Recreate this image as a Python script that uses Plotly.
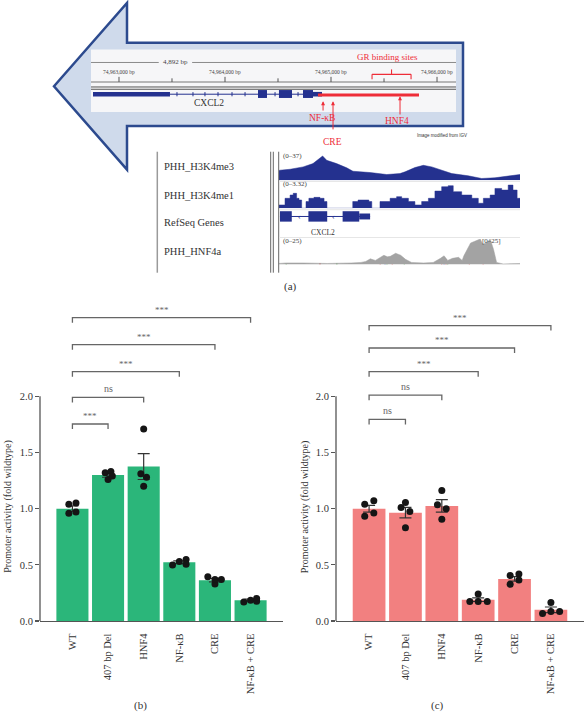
import plotly.graph_objects as go

W, H = 585, 717
SERIF = "Liberation Serif"


def PX(x):
    return x / W


def PY(y):
    return 1 - y / H


# ---------------- bar chart data ----------------
CATEGORIES = ["WT", "407 bp Del", "HNF4", "NF-κB", "CRE", "NF-κB + CRE"]

B_MEAN = [1.00, 1.30, 1.375, 0.523, 0.364, 0.186]
B_SEM = [0.025, 0.02, 0.115, 0.012, 0.016, 0.01]
B_POINTS = [
    [1.04, 1.05, 0.96, 0.97],
    [1.32, 1.33, 1.26, 1.29],
    [1.71, 1.31, 1.28, 1.20],
    [0.50, 0.53, 0.547, 0.506],
    [0.395, 0.33, 0.37, 0.37],
    [0.17, 0.185, 0.20, 0.177],
]
B_SIG_LABELS = ["***", "ns", "***", "***", "***"]
B_SIG_LEVELS = [1.754, 1.99, 2.22, 2.46, 2.70]

C_MEAN = [1.00, 0.965, 1.025, 0.19, 0.375, 0.10]
C_SEM = [0.03, 0.047, 0.055, 0.016, 0.02, 0.025]
C_POINTS = [
    [1.039, 1.07, 0.933, 0.962],
    [1.01, 1.056, 0.974, 0.83],
    [1.162, 1.036, 1.0, 0.906],
    [0.24, 0.174, 0.174, 0.174],
    [0.406, 0.418, 0.327, 0.365],
    [0.165, 0.068, 0.086, 0.086],
]
C_SIG_LABELS = ["ns", "ns", "***", "***", "***"]
C_SIG_LEVELS = [1.795, 2.01, 2.22, 2.43, 2.63]

Y_TICKS = [0.0, 0.5, 1.0, 1.5, 2.0]

# jitter of replicate dots (style, category units)
B_JITTER = [
    [-0.1, 0.1, -0.1, 0.1],
    [-0.08, 0.08, 0.0, 0.12],
    [0.0, -0.08, 0.08, 0.0],
    [-0.19, 0.0, 0.19, 0.19],
    [-0.2, 0.0, 0.0, 0.18],
    [-0.19, 0.0, 0.17, 0.17],
]
C_JITTER = [
    [-0.12, 0.13, -0.12, 0.13],
    [-0.12, 0.0, 0.12, 0.0],
    [0.0, -0.12, 0.12, 0.0],
    [0.0, -0.23, 0.0, 0.25],
    [-0.12, 0.12, -0.12, 0.12],
    [0.0, -0.23, 0.0, 0.24],
]

# ---------------- genome schematic data ----------------
RULER_TICKS_BP = [74963000, 74963500, 74964000, 74964500, 74965000, 74965500, 74966000]
RULER_LABELS = ["74,963,000 bp", "74,964,000 bp", "74,965,000 bp", "74,966,000 bp"]
RULER_LABEL_BP = [74963000, 74964000, 74965000, 74966000]
WINDOW_BP = [74962736, 74966179]
UTR3_BP = [74962755, 74963481]
INTRON_BP = [74963481, 74964915]
INTRON_STRAND_MARKS_BP = [74963547, 74963698, 74963811, 74963934, 74964066, 74964189,
                          74964472, 74964689]
EXONS_BP = [[74964311, 74964396], [74964509, 74964632], [74964736, 74964830]]
UTR5_BP = [74964830, 74964915]
PROMOTER_BP = [74964877, 74965830]
SITE_NAMES = ["NF-κB", "CRE", "HNF4"]
SITE_BP = [74964925, 74965019, 74965651]
GR_SITES_BP = [74965387, 74965755]

# lower IGV panel: window position (%) and track values
H3K4ME3_POS = [0, 0.4, 4.6, 10, 14.1, 17, 18.1, 19.8, 23.9, 28.1, 30.7, 37.8, 44.7, 50.2, 52.3,
               56.4, 59.9, 63.4, 67.5, 71.7, 78.5, 84.1, 89.6, 95.1, 100]
H3K4ME3_VAL = [13, 13.4, 14.7, 17.9, 22.3, 29, 32.6, 26.7, 22.3, 16.6, 12, 10.3, 7.6, 8.9, 11.2,
               17, 20, 17.9, 13.4, 8.9, 5.9, 2.3, 3.2, 5.3, 7.6]

H3K4ME1_POS = [0, 0.4, 2.5, 4.6, 5.9, 7.3, 8.3, 9.4, 11.2, 12.4, 14.5, 17, 18.7, 19.9, 30.6, 32.8,
               36.1, 37.3, 38.5, 41.9, 46.1, 48.8, 50.9, 53.7, 56.4, 59.2, 62, 64.7, 67.5, 70.2,
               72.3, 75.8, 80, 82.7, 84.8, 87.6, 89.6, 92.4, 95.1, 97.1, 98.8, 100]
H3K4ME1_VAL = [0.42, 0.42, 1.28, 1.70, 1.92, 1.28, 1.06, 0, 0.86, 1.28, 1.40, 1.28, 0.86, 0, 0.86,
               1.06, 1.06, 0.86, 0, 0.86, 1.28, 1.49, 1.28, 0.86, 0.42, 0.86, 1.28, 2.21, 2.77,
               2.90, 2.13, 1.70, 1.28, 0.64, 1.28, 1.70, 2.55, 2.34, 2.98, 2.34, 1.28, 0.86]

REFSEQ_EXONS_POS = [[0.4, 5.3], [12.2, 20.0], [26.4, 33.3]]
REFSEQ_UTR_POS = [33.3, 37.8]
REFSEQ_STRAND_MARKS_POS = [8.7, 22.8]

HNF4A_POS = [0, 3, 10, 20, 30, 34, 36, 37.9, 40, 42, 43.5, 45, 46.2, 48.4, 50.5, 52.5, 55, 60,
             64, 67, 68.5, 70, 72, 74.5, 76, 76.7, 78.2, 79.5, 81.5, 83.5, 84.5, 86.2, 87.6, 89,
             90.3, 93, 100]
HNF4A_VAL = [1, 1.5, 1.5, 1, 1.5, 2, 3, 5.5, 4, 7, 9, 7.5, 8, 11, 9, 5, 2, 1.5,
             2, 6, 8.5, 4, 6, 7, 4, 8.5, 16, 21, 23, 25, 20, 21, 25, 15,
             2, 0.5, 1]
MISMATCH_POS = [3, 17, 24, 42, 44, 44.8, 47, 52, 67.5, 68.5, 69.3, 70, 79, 84.7]
MISMATCH_VAL = [1.5, 1.5, 1.2, 3, 4, 3, 3, 2, 4, 6, 5, 2, 3, 15]
MISMATCH_COLOR = ["#2ca02c", "#d62728", "#2ca02c", "#d62728", "#1f3fbf", "#2ca02c", "#d62728",
                  "#2ca02c", "#d62728", "#1f3fbf", "#d62728", "#2ca02c", "#d62728", "#e8303a"]

GREEN = "#2bb67a"
CORAL = "#f28080"
RED = "#ee2d38"
NAVY = "#24318f"
AXIS_GRAY = "#555555"

fig = go.Figure()
shapes = []
annotations = []


def paper_text(txt, xpx, ypx, size, color="#333333", family=SERIF, xanchor="center", **kw):
    annotations.append(dict(x=PX(xpx), y=PY(ypx), xref="paper", yref="paper", text=txt,
                            xanchor=xanchor, yanchor="middle", showarrow=False,
                            font=dict(family=family, size=size, color=color), **kw))


# ---------------- bar panels ----------------
panels = [
    ("x", "y", B_MEAN, B_SEM, B_POINTS, B_JITTER, B_SIG_LABELS, B_SIG_LEVELS, GREEN),
    ("x2", "y2", C_MEAN, C_SEM, C_POINTS, C_JITTER, C_SIG_LABELS, C_SIG_LEVELS, CORAL),
]
for xa, ya, mean, sem, pts, jit, labels, levels, color in panels:
    idx = list(range(len(CATEGORIES)))
    fig.add_trace(go.Bar(
        x=idx, y=mean, width=0.9, marker=dict(color=color, line=dict(width=0)),
        error_y=dict(type="data", array=sem, visible=True, color="#333333", thickness=1.2, width=6),
        xaxis=xa, yaxis=ya, showlegend=False, hoverinfo="skip"))
    px_, py_ = [], []
    for i, (vals, js) in enumerate(zip(pts, jit)):
        for v, j in zip(vals, js):
            px_.append(i + j)
            py_.append(v)
    fig.add_trace(go.Scatter(
        x=px_, y=py_, mode="markers", marker=dict(color="#151515", size=7),
        xaxis=xa, yaxis=ya, showlegend=False, hoverinfo="skip"))
    # significance brackets
    drop = 0.045
    for t, (lab, lev) in enumerate(zip(labels, levels), start=1):
        fig.add_trace(go.Scatter(
            x=[0, 0, t, t], y=[lev - drop, lev, lev, lev - drop], mode="lines",
            line=dict(color="#666666", width=1.3), xaxis=xa, yaxis=ya,
            showlegend=False, hoverinfo="skip"))
        annotations.append(dict(
            x=t / 2, y=lev, xref=xa, yref=ya, text=lab, showarrow=False,
            xanchor="center", yanchor="bottom", yshift=1,
            font=dict(family=SERIF, size=10 if lab == "ns" else 9, color="#666666")))
    # y axis line (0 to 2)
    shapes.append(dict(type="line", xref=xa + " domain", x0=0, x1=0, yref=ya, y0=0, y1=2,
                       line=dict(color=AXIS_GRAY, width=1.3)))

bar_y_domain = [PY(626.3), PY(297.7)]
axis_common = dict(
    tickvals=list(range(len(CATEGORIES))), ticktext=CATEGORIES, tickangle=-90,
    range=[-0.91, 5.91], showline=True, linecolor=AXIS_GRAY, linewidth=1.3,
    ticks="", showgrid=False, zeroline=False, ticklabelstandoff=7,
    tickfont=dict(family=SERIF, size=10.5, color="#333333"))
yaxis_common = dict(
    range=[0, 2.9], tickvals=Y_TICKS, ticktext=[f"{v:.1f}" for v in Y_TICKS],
    ticks="outside", ticklen=4, tickwidth=1.2, tickcolor=AXIS_GRAY, showline=False,
    showgrid=False, zeroline=False, domain=bar_y_domain,
    tickfont=dict(family=SERIF, size=10.5, color="#333333"))

# y titles and panel letters
for xpx, ypx in [(8, 511), (304.5, 512)]:
    paper_text("Promoter activity (fold wildtype)", xpx, ypx, 10, textangle=-90)
for txt, xpx, ypx in [("(a)", 290, 289), ("(b)", 140, 711), ("(c)", 437, 711)]:
    paper_text(txt, xpx, ypx, 11)

# ---------------- panel (a): big arrow + IGV view ----------------
arrow_pts = [(54, 87), (127, 3), (127, 43), (463, 43), (463, 127), (127, 127), (127, 171)]
path = "M " + " L ".join(f"{PX(x):.5f},{PY(y):.5f}" for x, y in arrow_pts) + " Z"
shapes.append(dict(type="path", xref="paper", yref="paper", path=path,
                   fillcolor="#cfdaeb", line=dict(color="#2c4a8e", width=2.5), layer="below"))
shapes.append(dict(type="rect", xref="paper", yref="paper", x0=PX(91), x1=PX(456),
                   y0=PY(113), y1=PY(50), fillcolor="#f6f6f8", line=dict(width=0), layer="below"))

X3, Y3 = "x3", "y3"
BP_PER_PX = 1000 / 106.0


def bp_text(txt, bp, ypx, size, color="#444444"):
    annotations.append(dict(x=bp, y=ypx, xref=X3, yref=Y3, text=txt, showarrow=False,
                            xanchor="center", yanchor="middle",
                            font=dict(family=SERIF, size=size, color=color)))


# 4,892 bp ruler line
for a, b in [(WINDOW_BP[0], 74963375), (74963690, WINDOW_BP[1])]:
    shapes.append(dict(type="line", xref=X3, yref=Y3, x0=a, x1=b, y0=63, y1=63,
                       line=dict(color="#8a8a8a", width=1)))
bp_text("4,892 bp", 74963532, 63, 7)
# coordinate ruler
shapes.append(dict(type="line", xref=X3, yref=Y3, x0=WINDOW_BP[0], x1=WINDOW_BP[1], y0=82.7,
                   y1=82.7, line=dict(color="#777777", width=1)))
for bp in RULER_TICKS_BP:
    major = bp in RULER_LABEL_BP
    shapes.append(dict(type="line", xref=X3, yref=Y3, x0=bp, x1=bp, y0=77.5 if major else 79,
                       y1=82.7, line=dict(color="#555555", width=1)))
for bp, lab in zip(RULER_LABEL_BP, RULER_LABELS):
    bp_text(lab, bp, 73, 5.5)
# chromosome lines
for yy in (87.7, 90.0):
    shapes.append(dict(type="line", xref=X3, yref=Y3, x0=WINDOW_BP[0], x1=WINDOW_BP[1],
                       y0=yy, y1=yy, line=dict(color="#555555", width=1)))
# gene model
shapes.append(dict(type="line", xref=X3, yref=Y3, x0=INTRON_BP[0], x1=INTRON_BP[1], y0=95,
                   y1=95, line=dict(color=NAVY, width=1)))
fig.add_trace(go.Scatter(x=INTRON_STRAND_MARKS_BP, y=[95] * len(INTRON_STRAND_MARKS_BP),
                         mode="markers", marker=dict(symbol="line-ns", size=3,
                                                     line=dict(color=NAVY, width=1)),
                         xaxis="x3", yaxis="y3", showlegend=False, hoverinfo="skip"))
shapes.append(dict(type="rect", xref=X3, yref=Y3, x0=UTR3_BP[0], x1=UTR3_BP[1], y0=92.7,
                   y1=97.3, fillcolor=NAVY, line=dict(width=0)))
for a, b in EXONS_BP:
    shapes.append(dict(type="rect", xref=X3, yref=Y3, x0=a, x1=b, y0=90.8, y1=98.8,
                       fillcolor=NAVY, line=dict(width=0)))
shapes.append(dict(type="rect", xref=X3, yref=Y3, x0=UTR5_BP[0], x1=UTR5_BP[1], y0=92.7,
                   y1=97.3, fillcolor=NAVY, line=dict(width=0)))
shapes.append(dict(type="rect", xref=X3, yref=Y3, x0=PROMOTER_BP[0], x1=PROMOTER_BP[1],
                   y0=94.2, y1=97.4, fillcolor=RED, line=dict(width=0)))
bp_text("CXCL2", 74963849, 104, 9.5, "#333333")
# site arrows
tails = [113, 132, 117]
heads = [102, 102, 97]
label_y = [119, 143, 122]
label_dx_px = [-1, -1, -3]
for name, bp, ty, hy in zip(SITE_NAMES, SITE_BP, tails, heads):
    annotations.append(dict(x=bp, y=hy, ax=bp, ay=ty, xref=X3, yref=Y3, axref=X3, ayref=Y3,
                            text="", showarrow=True, arrowhead=2, arrowsize=0.8,
                            arrowwidth=1, arrowcolor=RED))
for name, bp, ly, dx in zip(SITE_NAMES, SITE_BP, label_y, label_dx_px):
    bp_text(name, bp + dx * BP_PER_PX, ly, 9.5, RED)
# GR binding sites bracket
g0, g1 = GR_SITES_BP
gm = (g0 + g1) / 2
for x0, x1, y0, y1 in [(g0, g1, 75, 75), (g0, g0, 75, 80), (g1, g1, 75, 80), (gm, gm, 70, 75)]:
    shapes.append(dict(type="line", xref=X3, yref=Y3, x0=x0, x1=x1, y0=y0, y1=y1,
                       line=dict(color=RED, width=1.1)))
bp_text("GR binding sites", gm - 4 * BP_PER_PX, 57, 9, RED)
paper_text("Image modified from IGV", 442, 137, 4.5, family="Liberation Sans")

# lower IGV panel frame
shapes.append(dict(type="line", xref="paper", yref="paper", x0=PX(157.3), x1=PX(157.3),
                   y0=PY(275), y1=PY(153), line=dict(color="#9a9a9a", width=1.5)))
for xx in (270.7, 273.3, 278.7):
    shapes.append(dict(type="line", xref="paper", yref="paper", x0=PX(xx), x1=PX(xx),
                       y0=PY(275), y1=PY(153), line=dict(color="#666666", width=1)))
for yy in (183, 211.5, 239.5):
    shapes.append(dict(type="line", xref="paper", yref="paper", x0=PX(279), x1=PX(520),
                       y0=PY(yy), y1=PY(yy), line=dict(color="#e6e6e6", width=1)))
for txt, yy in [("PHH_H3K4me3", 167.7), ("PHH_H3K4me1", 196.7), ("RefSeq Genes", 224.3),
                ("PHH_HNF4a", 253.3)]:
    paper_text(txt, 162, yy, 10.5, xanchor="left")
for txt, yy in [("(0–37)", 157), ("(0–3.32)", 186), ("(0–25)", 243)]:
    paper_text(txt, 281, yy, 7, "#444444", xanchor="left")

fig.add_trace(go.Scatter(x=H3K4ME3_POS, y=H3K4ME3_VAL, mode="lines", fill="tozeroy",
                         fillcolor=NAVY, line=dict(color=NAVY, width=0.5),
                         xaxis="x4", yaxis="y4", showlegend=False, hoverinfo="skip"))
fig.add_trace(go.Scatter(x=H3K4ME1_POS, y=H3K4ME1_VAL, mode="lines", fill="tozeroy",
                         fillcolor=NAVY, line=dict(color=NAVY, width=0.5, shape="hv"),
                         xaxis="x4", yaxis="y5", showlegend=False, hoverinfo="skip"))
fig.add_trace(go.Scatter(x=HNF4A_POS, y=HNF4A_VAL, mode="lines", fill="tozeroy",
                         fillcolor="#a3a3a3", line=dict(color="#a3a3a3", width=0.5),
                         xaxis="x4", yaxis="y6", showlegend=False, hoverinfo="skip"))
fig.add_trace(go.Bar(x=MISMATCH_POS, y=MISMATCH_VAL, width=0.5,
                     marker=dict(color=MISMATCH_COLOR, line=dict(width=0)),
                     xaxis="x4", yaxis="y6", showlegend=False, hoverinfo="skip"))
paper_text("[0–25]", 491.7, 243, 7, "#444444")
# RefSeq gene (lower panel)
shapes.append(dict(type="line", xref="x4", yref="paper", x0=REFSEQ_EXONS_POS[0][0],
                   x1=REFSEQ_UTR_POS[1], y0=PY(218.3), y1=PY(218.3),
                   line=dict(color=NAVY, width=1)))
for a, b in REFSEQ_EXONS_POS:
    shapes.append(dict(type="rect", xref="x4", yref="paper", x0=a, x1=b, y0=PY(223.5),
                       y1=PY(213), fillcolor=NAVY, line=dict(width=0)))
shapes.append(dict(type="rect", xref="x4", yref="paper", x0=REFSEQ_UTR_POS[0],
                   x1=REFSEQ_UTR_POS[1], y0=PY(221.3), y1=PY(215.3), fillcolor=NAVY,
                   line=dict(width=0)))
for pos in REFSEQ_STRAND_MARKS_POS:
    annotations.append(dict(x=pos, y=PY(218.3), xref="x4", yref="paper", text="‹",
                            showarrow=False, xanchor="center", yanchor="middle",
                            font=dict(family=SERIF, size=8, color=NAVY)))
paper_text("CXCL2", 322.7, 234, 7.5)

hidden = dict(visible=False, showgrid=False, zeroline=False, fixedrange=True)
fig.update_layout(
    width=W, height=H, margin=dict(l=0, r=0, t=0, b=0),
    paper_bgcolor="white", plot_bgcolor="rgba(0,0,0,0)",
    barmode="overlay", showlegend=False,
    xaxis=dict(domain=[PX(40), PX(283)], anchor="y", **axis_common),
    yaxis=dict(anchor="x", **yaxis_common),
    xaxis2=dict(domain=[PX(336), PX(584)], anchor="y2", **axis_common),
    yaxis2=dict(anchor="x2", **yaxis_common),
    xaxis3=dict(domain=[PX(91), PX(456)], range=WINDOW_BP, anchor="y3", **hidden),
    yaxis3=dict(domain=[0, 1], range=[H, 0], anchor="x3", **hidden),
    xaxis4=dict(domain=[PX(279), PX(520)], range=[0, 100], anchor="y4", **hidden),
    yaxis4=dict(domain=[PY(181.7), PY(154)], range=[0, 37], anchor="x4", **hidden),
    yaxis5=dict(domain=[PY(210), PY(184)], range=[0, 3.32], anchor="x4", **hidden),
    yaxis6=dict(domain=[PY(266.7), PY(241)], range=[0, 25], anchor="x4", **hidden),
    shapes=shapes, annotations=annotations,
)

fig.write_html(
    "out.html",
    config={"displayModeBar": False, "staticPlot": True},
    post_script="document.body.style.margin='0';document.body.style.overflow='hidden';",
)
